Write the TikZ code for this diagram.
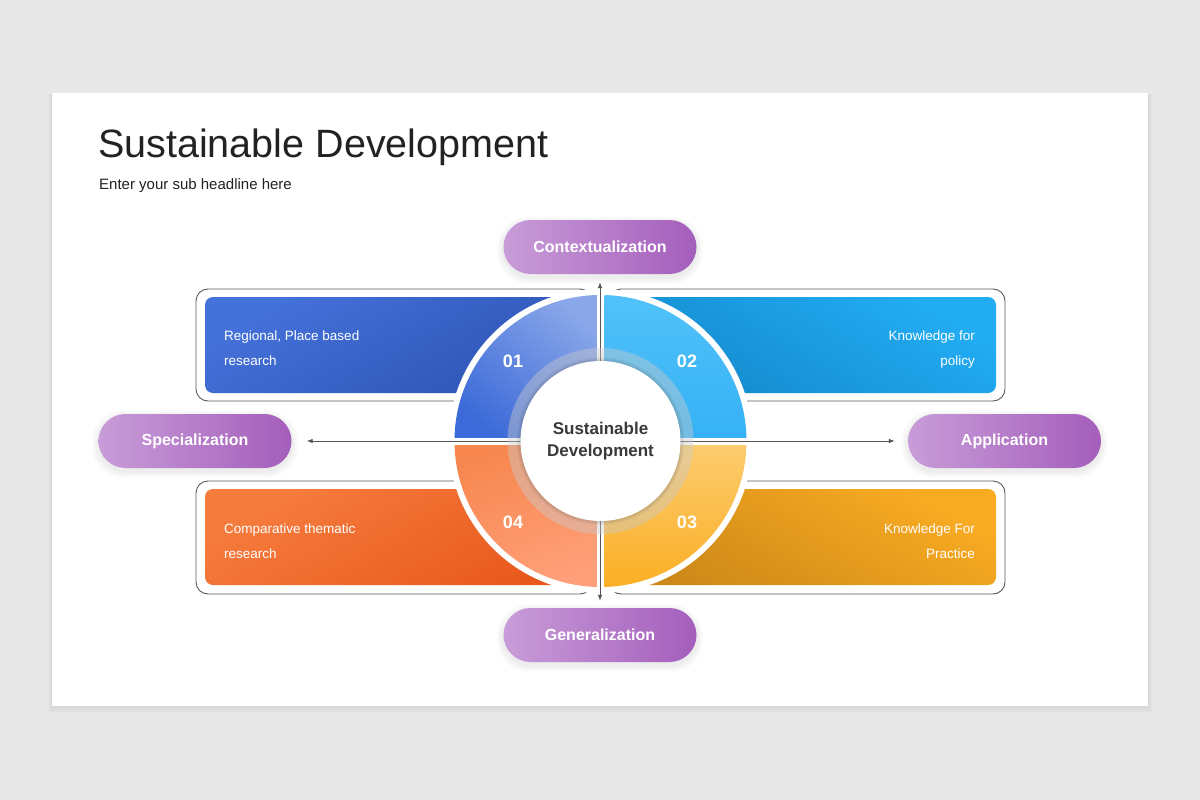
\documentclass[tikz,border=0pt]{standalone}
\usepackage{fontspec}
\setmainfont{Liberation Sans}
\usetikzlibrary{arrows.meta}
\definecolor{bg}{HTML}{E9E8E9}
\definecolor{titlec}{HTML}{222222}
\definecolor{outl}{HTML}{5A5A5A}
\definecolor{q1a}{HTML}{3C6AD8}
\definecolor{q1b}{HTML}{8AA7E9}
\definecolor{q2a}{HTML}{36B2F6}
\definecolor{q2b}{HTML}{52C2F9}
\definecolor{q3a}{HTML}{FBAE22}
\definecolor{q3b}{HTML}{FCCB6E}
\definecolor{q4a}{HTML}{F7874F}
\definecolor{q4b}{HTML}{FFA07A}
\definecolor{r1a}{HTML}{4471DA}
\definecolor{r1b}{HTML}{2D53B2}
\definecolor{r2a}{HTML}{1487CB}
\definecolor{r2b}{HTML}{22ADF3}
\definecolor{r3a}{HTML}{F67C3E}
\definecolor{r3b}{HTML}{E8581C}
\definecolor{r4a}{HTML}{CC8818}
\definecolor{r4b}{HTML}{F9AB22}
\definecolor{pillL}{HTML}{C89CD8}
\definecolor{pillR}{HTML}{A45EBB}
\definecolor{centxt}{HTML}{3A3A3A}
\definecolor{arr}{HTML}{555555}
\definecolor{haloc}{HTML}{B8B8B8}
\tikzset{
  outlinebox/.style={draw=outl, line width=0.9pt, rounded corners=12pt, fill=white},
  pill/.style={rounded corners=27pt, minimum width=193pt, minimum height=54pt,
    left color=pillL, right color=pillR, text=white, inner sep=0pt,
    font=\fontsize{16}{18}\selectfont\bfseries},
  pillshadow/.style={fill=black, opacity=0.025, rounded corners=30pt},
  rtext/.style={text=white, inner sep=0pt, font=\fontsize{13.5}{16}\selectfont},
  numtext/.style={text=white, inner sep=0pt, font=\fontsize{18}{20}\selectfont\bfseries},
  arrowline/.style={draw=arr, line width=0.8pt, {Latex[length=6pt,width=4.5pt]}-{Latex[length=6pt,width=4.5pt]}}
}
\begin{document}
\begin{tikzpicture}[x=1pt,y=-1pt]
\useasboundingbox (0,0) rectangle (1200,800);
\fill[bg] (0,0) rectangle (1200,800);
% card with soft shadow
\foreach \i in {1,...,6} {
  \fill[black, opacity=0.010] (52-\i*0.7,93+\i*0.2) rectangle (1148+\i*0.7,706+\i*1.2);
}
\fill[white] (52,93) rectangle (1148,706);

% titles
\node[anchor=base west, inner sep=0pt, text=titlec, font=\fontsize{39.5}{48}\selectfont] (title) at (98,157) {Sustainable Development};
\node[anchor=base west, inner sep=0pt, text=titlec, font=\fontsize{15}{18}\selectfont] (sub) at (99,189) {Enter your sub headline here};

% outline boxes
\path[outlinebox] (196,289) rectangle (592,401);
\path[outlinebox] (609,289) rectangle (1005,401);
\path[outlinebox] (196,481) rectangle (592,594);
\path[outlinebox] (609,481) rectangle (1005,594);

% coloured boxes
\path[rounded corners=8pt, top color=r1a, bottom color=r1b, shading angle=30] (205,297) rectangle (598,393);
\path[rounded corners=8pt, top color=r2b, bottom color=r2a, shading angle=-30] (603,297) rectangle (996,393);
\path[rounded corners=8pt, top color=r3a, bottom color=r3b, shading angle=30] (205,489) rectangle (598,585);
\path[rounded corners=8pt, top color=r4b, bottom color=r4a, shading angle=-30] (603,489) rectangle (996,585);

% pill soft shadows
\foreach \cx/\cy in {600/247, 600/635, 195/441, 1004.5/441} {
  \foreach \s in {2,4,6} {
    \fill[pillshadow] (\cx-96.5-\s,\cy-27-\s+3) rectangle (\cx+96.5+\s,\cy+27+\s+3);
  }
}
% pills
\node[pill] (ctx) at (600,247) {Contextualization};
\node[pill] (gen) at (600,635) {Generalization};
\node[pill] (spec) at (195,441) {Specialization};
\node[pill] (app) at (1004.5,441) {Application};

% ring
\coordinate (C) at (600.5,441);
\fill[white] (C) circle (152);
\begin{scope}
  \clip (C) circle (146);
  \path[top color=q1b, bottom color=q1a, shading angle=-40] (450,290) rectangle (596.5,437);
  \path[top color=q2b, bottom color=q2a, shading angle=0] (604.5,290) rectangle (752,437);
  \path[top color=q3b, bottom color=q3a, shading angle=0] (604.5,445.5) rectangle (752,592);
  \path[top color=q4a, bottom color=q4b, shading angle=20] (450,445.5) rectangle (596.5,592);
\end{scope}

% arrows
\draw[arrowline, shorten <=8pt, shorten >=7pt] (ctx) -- (gen);
\draw[arrowline, shorten <=15pt, shorten >=13pt] (spec) -- (app);

% halo and centre
\fill[haloc, opacity=0.35] (C) circle (93);
\fill[white, opacity=0.12] (C) circle (93);
\foreach \s in {1,...,4} {\fill[black, opacity=0.03] (C) circle (80+\s);}
\fill[white] (C) circle (80);
\node[align=center, inner sep=0pt, text=centxt, font=\fontsize{17}{22}\selectfont\bfseries] (centre) at (C) {Sustainable\\Development};

% numbers
\node[numtext] (n1) at (513,361) {01};
\node[numtext] (n2) at (687,361) {02};
\node[numtext] (n3) at (687,522) {03};
\node[numtext] (n4) at (513,522) {04};

% box texts
\node[rtext, anchor=base west] (t1a) at (224,340) {Regional, Place based};
\node[rtext, anchor=base west] (t1b) at (224,365) {research};
\node[rtext, anchor=base east] (t2a) at (975,340) {Knowledge for};
\node[rtext, anchor=base east] (t2b) at (975,365) {policy};
\node[rtext, anchor=base west] (t4a) at (224,533) {Comparative thematic};
\node[rtext, anchor=base west] (t4b) at (224,558) {research};
\node[rtext, anchor=base east] (t3a) at (975,533) {Knowledge For};
\node[rtext, anchor=base east] (t3b) at (975,558) {Practice};
\end{tikzpicture}
\end{document}
